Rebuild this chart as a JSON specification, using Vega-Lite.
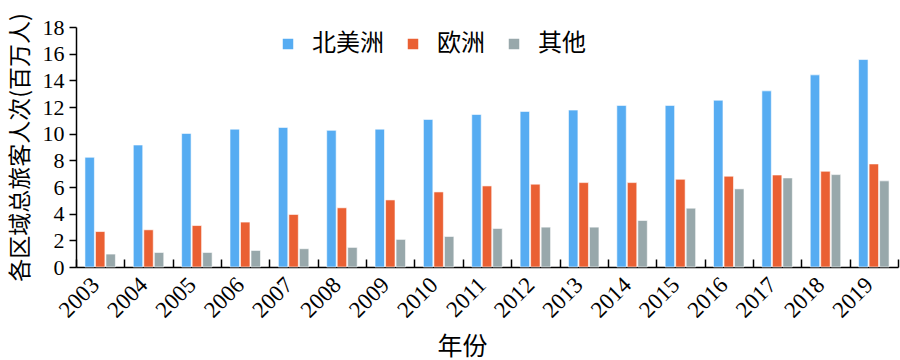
{
  "$schema": "https://vega.github.io/schema/vega-lite/v6.json",
  "width": 822,
  "height": 240,
  "autosize": {"type": "none"},
  "padding": {"left": 76, "top": 27, "right": 2, "bottom": 93},
  "background": "white",
  "config": {
    "view": {"stroke": null},
    "axis": {"grid": false, "domainColor": "black", "tickColor": "black", "labelColor": "black", "titleColor": "black"}
  },
  "data": {
    "values": [
      {"year": "2003", "region": "北美洲", "value": 8.23}, {"year": "2003", "region": "欧洲", "value": 2.66}, {"year": "2003", "region": "其他", "value": 0.97},
      {"year": "2004", "region": "北美洲", "value": 9.15}, {"year": "2004", "region": "欧洲", "value": 2.79}, {"year": "2004", "region": "其他", "value": 1.09},
      {"year": "2005", "region": "北美洲", "value": 10.02}, {"year": "2005", "region": "欧洲", "value": 3.11}, {"year": "2005", "region": "其他", "value": 1.09},
      {"year": "2006", "region": "北美洲", "value": 10.34}, {"year": "2006", "region": "欧洲", "value": 3.37}, {"year": "2006", "region": "其他", "value": 1.24},
      {"year": "2007", "region": "北美洲", "value": 10.47}, {"year": "2007", "region": "欧洲", "value": 3.94}, {"year": "2007", "region": "其他", "value": 1.37},
      {"year": "2008", "region": "北美洲", "value": 10.25}, {"year": "2008", "region": "欧洲", "value": 4.44}, {"year": "2008", "region": "其他", "value": 1.47},
      {"year": "2009", "region": "北美洲", "value": 10.34}, {"year": "2009", "region": "欧洲", "value": 5.03}, {"year": "2009", "region": "其他", "value": 2.07},
      {"year": "2010", "region": "北美洲", "value": 11.07}, {"year": "2010", "region": "欧洲", "value": 5.63}, {"year": "2010", "region": "其他", "value": 2.29},
      {"year": "2011", "region": "北美洲", "value": 11.44}, {"year": "2011", "region": "欧洲", "value": 6.08}, {"year": "2011", "region": "其他", "value": 2.89},
      {"year": "2012", "region": "北美洲", "value": 11.67}, {"year": "2012", "region": "欧洲", "value": 6.21}, {"year": "2012", "region": "其他", "value": 2.99},
      {"year": "2013", "region": "北美洲", "value": 11.77}, {"year": "2013", "region": "欧洲", "value": 6.33}, {"year": "2013", "region": "其他", "value": 2.99},
      {"year": "2014", "region": "北美洲", "value": 12.12}, {"year": "2014", "region": "欧洲", "value": 6.33}, {"year": "2014", "region": "其他", "value": 3.49},
      {"year": "2015", "region": "北美洲", "value": 12.12}, {"year": "2015", "region": "欧洲", "value": 6.58}, {"year": "2015", "region": "其他", "value": 4.41},
      {"year": "2016", "region": "北美洲", "value": 12.51}, {"year": "2016", "region": "欧洲", "value": 6.81}, {"year": "2016", "region": "其他", "value": 5.86},
      {"year": "2017", "region": "北美洲", "value": 13.21}, {"year": "2017", "region": "欧洲", "value": 6.90}, {"year": "2017", "region": "其他", "value": 6.68},
      {"year": "2018", "region": "北美洲", "value": 14.41}, {"year": "2018", "region": "欧洲", "value": 7.18}, {"year": "2018", "region": "其他", "value": 6.93},
      {"year": "2019", "region": "北美洲", "value": 15.56}, {"year": "2019", "region": "欧洲", "value": 7.73}, {"year": "2019", "region": "其他", "value": 6.46}
    ]
  },
  "mark": {"type": "bar", "stroke": "white", "strokeWidth": 0.6},
  "encoding": {
    "x": {
      "field": "year", "type": "nominal",
      "scale": {"paddingInner": 0, "paddingOuter": 0},
      "axis": {
        "title": "年份", "titleFont": "Noto Sans CJK SC", "titleFontSize": 25, "titleFontWeight": "normal",
        "titleX": 386, "titleY": 79, "titleBaseline": "middle", "titleAlign": "center",
        "labelFont": "Liberation Serif", "labelFontSize": 23, "labelAngle": -45, "labelAlign": "right", "labelBaseline": "middle", "labelPadding": 22, "labelOffset": -5,
        "tickBand": "extent", "tickSize": -8, "ticks": true, "domainWidth": 1.5, "tickWidth": 1.5
      }
    },
    "xOffset": {
      "field": "region", "type": "nominal", "sort": ["北美洲", "欧洲", "其他"],
      "scale": {"paddingInner": 0.1, "paddingOuter": 0.85}
    },
    "y": {
      "field": "value", "type": "quantitative",
      "scale": {"domain": [0, 18], "nice": false},
      "axis": {
        "title": "各区域总旅客人次(百万人)", "titleFont": "Noto Sans CJK SC", "titleFontSize": 23, "titleFontWeight": "normal", "titlePadding": 10,
        "values": [0, 2, 4, 6, 8, 10, 12, 14, 16, 18],
        "labelFont": "Liberation Serif", "labelFontSize": 22, "labelPadding": 5,
        "tickSize": 7, "domainWidth": 1.5, "tickWidth": 1.5
      }
    },
    "color": {
      "field": "region", "type": "nominal", "sort": ["北美洲", "欧洲", "其他"],
      "scale": {"domain": ["北美洲", "欧洲", "其他"], "range": ["#56acf2", "#ea6033", "#98a8ab"]},
      "legend": {
        "title": null, "orient": "none", "direction": "horizontal", "legendX": 200, "legendY": 5, "padding": 0,
        "symbolType": "square", "symbolSize": 110, "symbolStrokeWidth": 0,
        "labelFont": "Noto Sans CJK SC", "labelFontSize": 24, "labelOffset": 12, "columnPadding": 17, "labelColor": "black"
      }
    }
  }
}
